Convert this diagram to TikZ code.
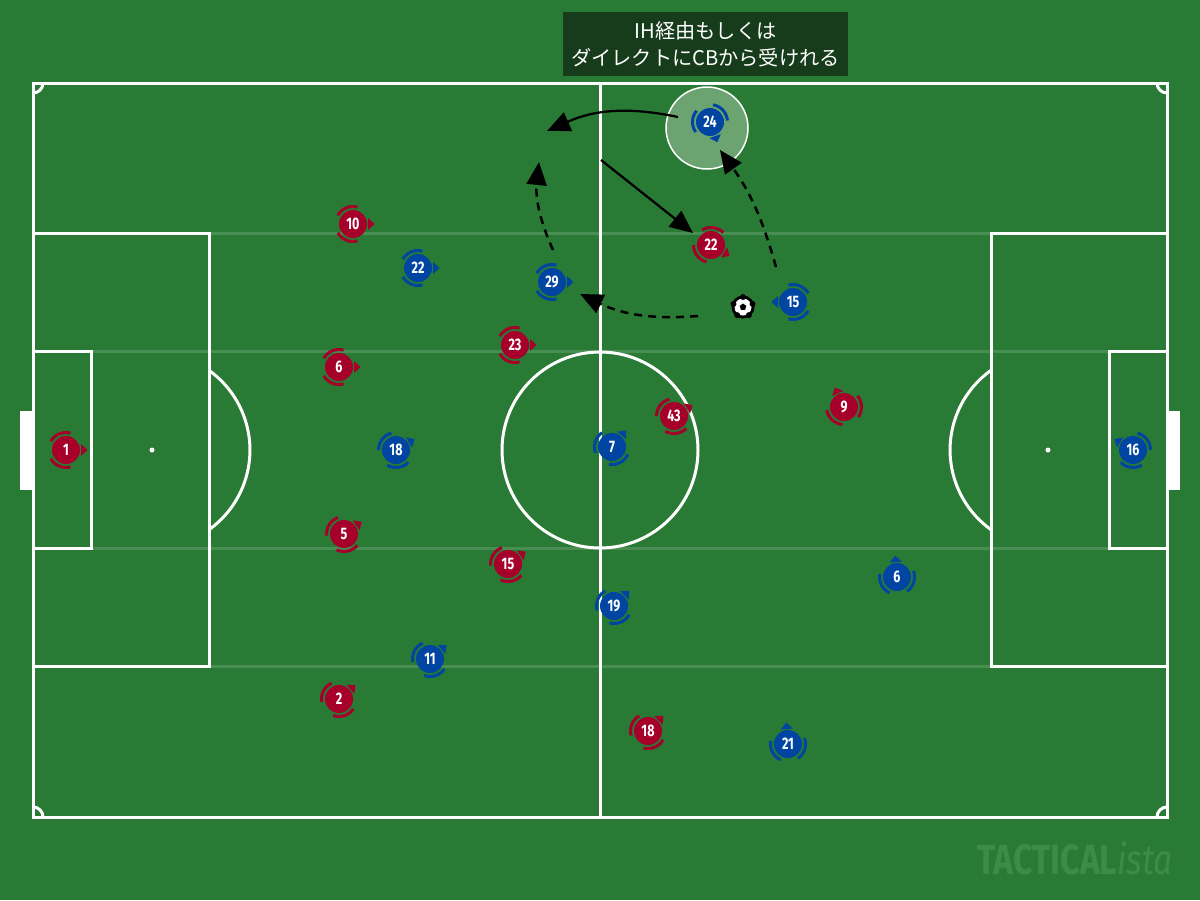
\documentclass[tikz,border=0pt]{standalone}
\usepackage{fontspec}
\usetikzlibrary{arrows.meta}
\newfontfamily\jpfont{Noto Sans CJK JP}
\newfontfamily\numfont[FakeStretch=0.75]{Fira Sans}
\newfontfamily\markfont[FakeStretch=0.8]{Fira Sans}

\definecolor{pitch}{HTML}{297A34}
\definecolor{notegreen}{HTML}{173C1B}
\definecolor{redp}{HTML}{A6002A}
\definecolor{bluep}{HTML}{0045A1}
\definecolor{markgreen}{HTML}{3E8B49}
\definecolor{spotgreen}{HTML}{6BA471}

\tikzset{
  line/.style={white, line width=0.06cm},
  faint/.style={white, opacity=0.15, line width=0.06cm},
  plr/.style={circle, minimum size=0.56cm, inner sep=0pt, text=white,
    font=\numfont\bfseries\fontsize{9.5}{10}\selectfont},
  pass/.style={line width=0.045cm, -{Triangle[length=0.46cm, width=0.4cm]}},
  run/.style={pass, line width=0.05cm, dash pattern=on 0.16cm off 0.12cm},
  notebox/.style={fill=notegreen, text=white, align=center,
    minimum width=5.7cm, minimum height=1.28cm, inner sep=0pt,
    font=\jpfont\fontsize{11.5}{15.5}\selectfont}
}

% name, x, y, number, colour, facing
\newcommand\player[6]{%
  \node[plr, fill=#5] (#1) at (#2,#3) {#4};
  \begin{scope}[shift={(#2,#3)}, rotate=#6]
    \draw[#5, line width=0.06cm] (75:17.5) arc[start angle=75, end angle=150, radius=17.5];
    \draw[#5, line width=0.06cm] (-150:17.5) arc[start angle=-150, end angle=-75, radius=17.5];
    \fill[#5] (15,-6) -- (21.5,0) -- (15,6) -- cycle;
  \end{scope}
}

\begin{document}
\begin{tikzpicture}[x=0.02cm, y=0.02cm]
  \fill[pitch] (0,0) rectangle (1200,-900);
  \useasboundingbox (0,0) rectangle (1200,-900);

  % stripes
  \foreach \y in {233,351,548,666}
    \draw[faint] (33,-\y) -- (1167,-\y);

  % pitch
  \draw[line] (33,-83) rectangle (1167,-817);
  \draw[line] (600,-83) -- (600,-817);
  \draw[line] (600,-450) circle[radius=98];
  \draw[line] (33,-233) rectangle (209,-666);
  \draw[line] (33,-351) rectangle (91,-548);
  \draw[line] (1167,-233) rectangle (991,-666);
  \draw[line] (1167,-351) rectangle (1109,-548);
  \draw[line] (209,-529.7) arc[start angle=-54.4, end angle=54.4, radius=98];
  \draw[line] (991,-370.3) arc[start angle=125.6, end angle=234.4, radius=98];
  \fill[white] (152,-450) circle[radius=2.5];
  \fill[white] (1048,-450) circle[radius=2.5];
  \fill[white] (20,-411) rectangle (33,-490);
  \fill[white] (1167,-411) rectangle (1180,-490);
  \draw[line] (43,-83) arc[start angle=0, end angle=-90, radius=10];
  \draw[line] (33,-807) arc[start angle=90, end angle=0, radius=10];
  \draw[line] (1157,-83) arc[start angle=180, end angle=270, radius=10];
  \draw[line] (1167,-807) arc[start angle=90, end angle=180, radius=10];

  % target zone
  \draw[white, line width=0.03cm, fill=spotgreen] (707,-128) circle[radius=41];

  \node[notebox] (note) at (705.5,-44) {IH経由もしくは\\ダイレクトにCBから受けれる};

  % red
  \player{r1}{66}{-450}{1}{redp}{0}
  \player{r10}{353}{-224}{10}{redp}{0}
  \player{r6}{339}{-367}{6}{redp}{0}
  \player{r23}{515}{-345}{23}{redp}{0}
  \player{r5}{344}{-534}{5}{redp}{35}
  \player{r15}{508}{-564}{15}{redp}{35}
  \player{r2}{339}{-699}{2}{redp}{40}
  \player{r43}{674}{-416}{43}{redp}{30}
  \player{r22}{711}{-245}{22}{redp}{-30}
  \player{r9}{844}{-407}{9}{redp}{115}
  \player{r18}{648}{-731}{18}{redp}{45}

  % blue
  \player{b24}{710}{-122}{24}{bluep}{-70}
  \player{b22}{418}{-268}{22}{bluep}{0}
  \player{b29}{552}{-282}{29}{bluep}{0}
  \player{b15}{793}{-302}{15}{bluep}{180}
  \player{b18}{396}{-450}{18}{bluep}{30}
  \player{b7}{612}{-447}{7}{bluep}{50}
  \player{b19}{614}{-606}{19}{bluep}{45}
  \player{b11}{430}{-659}{11}{bluep}{40}
  \player{b6}{897}{-577}{6}{bluep}{95}
  \player{b21}{788}{-744}{21}{bluep}{95}
  \player{b16}{1133}{-450}{16}{bluep}{150}

  % ball
  \node[circle, fill=black, minimum size=0.46cm, inner sep=0pt] (ball) at (743,-307) {};
  \fill[white] (ball) circle[radius=8.5];
  \fill[black] (743,-307) +(90:3.5) -- +(162:3.5) -- +(234:3.5) -- +(306:3.5) -- +(18:3.5) -- cycle;
  \foreach \a in {90,162,234,306,18}
    \fill[black] (743,-307) +(\a:10) circle[radius=3];

  % moves
  \coordinate (a1s) at (678,-117);
  \coordinate (a1e) at (547,-131);
  \coordinate (a2s) at (601,-160);
  \coordinate (a2e) at (693,-233);
  \coordinate (a3s) at (553,-250);
  \coordinate (a3e) at (539,-162);
  \coordinate (a4s) at (698,-316);
  \coordinate (a4e) at (580,-294);
  \coordinate (a5s) at (776,-267);
  \coordinate (a5e) at (720,-150);

  \draw[pass] (a1s) to[bend right=18] (a1e);
  \draw[pass] (a2s) -- (a2e);
  \draw[run] (a3s) to[bend left=15] (a3e);
  \draw[run] (a4s) to[bend left=15] (a4e);
  \draw[run] (a5s) to[bend right=10] (a5e);

  \node[markgreen, font=\markfont\fontsize{24}{24}\selectfont] (mark) at (1075,-858)
    {\bfseries TACTICAL\mdseries\itshape ista};
\end{tikzpicture}
\end{document}
